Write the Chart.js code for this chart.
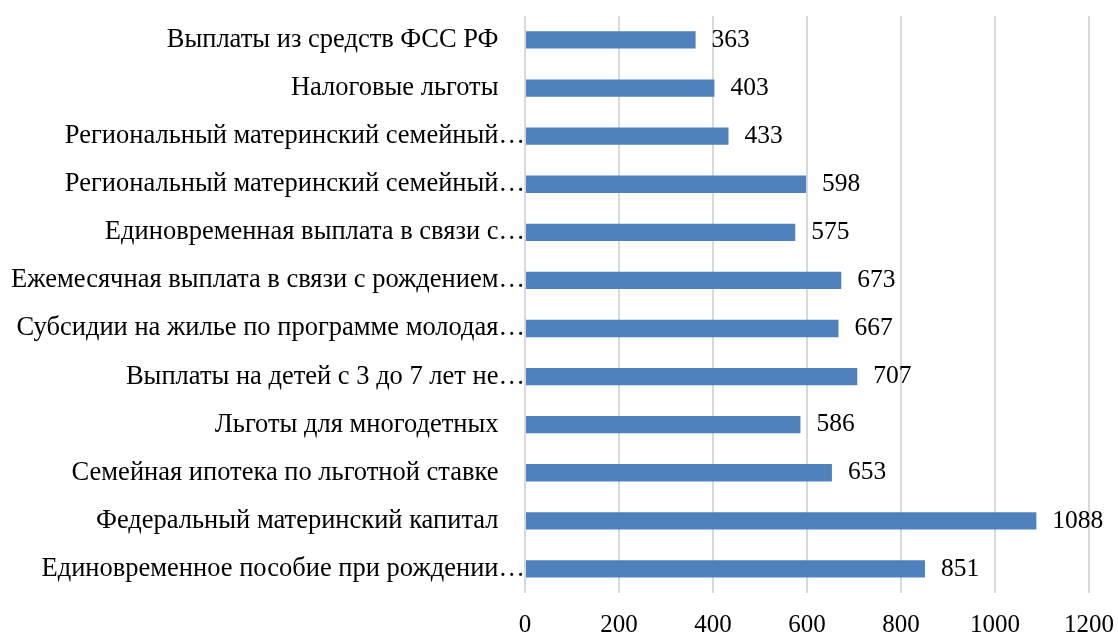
<!DOCTYPE html>
<html><head><meta charset="utf-8">
<script src="https://cdn.jsdelivr.net/npm/chart.js@4/dist/chart.umd.min.js"></script>
<style>html,body{margin:0;padding:0;background:#fff}#wrap{width:1118px;height:634px}</style>
</head><body><div id="wrap"><canvas id="c" width="1118" height="634"></canvas></div>
<script>
const categories = [
  "Выплаты из средств ФСС РФ",
  "Налоговые льготы",
  "Региональный материнский семейный…",
  "Региональный материнский семейный…",
  "Единовременная выплата в связи с…",
  "Ежемесячная выплата в связи с рождением…",
  "Субсидии на жилье по программе молодая…",
  "Выплаты на детей с 3 до 7 лет не…",
  "Льготы для многодетных",
  "Семейная ипотека по льготной ставке",
  "Федеральный материнский капитал",
  "Единовременное пособие при рождении…"
];
const values = [363, 403, 433, 598, 575, 673, 667, 707, 586, 653, 1088, 851];
const xTicks = [0, 200, 400, 600, 800, 1000, 1200];

const FONT = "'Liberation Serif', 'Times New Roman', serif";

const labelPlugin = {
  id: 'valueLabels',
  afterDatasetsDraw(chart) {
    const ctx = chart.ctx;
    const meta = chart.getDatasetMeta(0);
    ctx.save();
    ctx.font = "25.5px " + FONT;
    ctx.fillStyle = "#000";
    ctx.textAlign = "left";
    ctx.textBaseline = "middle";
    meta.data.forEach((bar, i) => {
      ctx.fillText(String(values[i]), bar.x + 16, bar.y);
    });
    ctx.restore();
  }
};

new Chart(document.getElementById('c'), {
  type: 'bar',
  data: {
    labels: categories,
    datasets: [{
      data: values,
      backgroundColor: '#4f81bd',
      borderWidth: 0,
      barPercentage: 0.36,
      categoryPercentage: 1.0
    }]
  },
  options: {
    indexAxis: 'y',
    responsive: false,
    animation: false,
    layout: { padding: { top: 13, right: 29, left: 0, bottom: 0 } },
    plugins: { legend: { display: false }, tooltip: { enabled: false } },
    scales: {
      x: {
        min: 0, max: 1200,
        afterBuildTicks(scale) { scale.ticks = xTicks.map(v => ({ value: v })); },
        grid: { color: '#d9d9d9', lineWidth: 2, drawTicks: true, tickLength: 13, tickColor: 'rgba(0,0,0,0)' },
        border: { display: false },
        ticks: {
          color: '#000', font: { family: FONT, size: 25 }, padding: 4, maxRotation: 0,
          callback(v) { return String(v); }
        },
        afterFit(scale) { scale.height = 41; }
      },
      y: {
        grid: { display: false, drawTicks: false },
        border: { display: false },
        ticks: {
          color: '#000', font: { family: FONT, size: 26.5 }, padding: 0, autoSkip: false,
          callback(v, i) { const t = categories[i]; return t.endsWith('…') ? t : t + '\u2003'; }
        },
        afterFit(scale) { scale.width = 525; }
      }
    }
  },
  plugins: [labelPlugin]
});
</script></body></html>
